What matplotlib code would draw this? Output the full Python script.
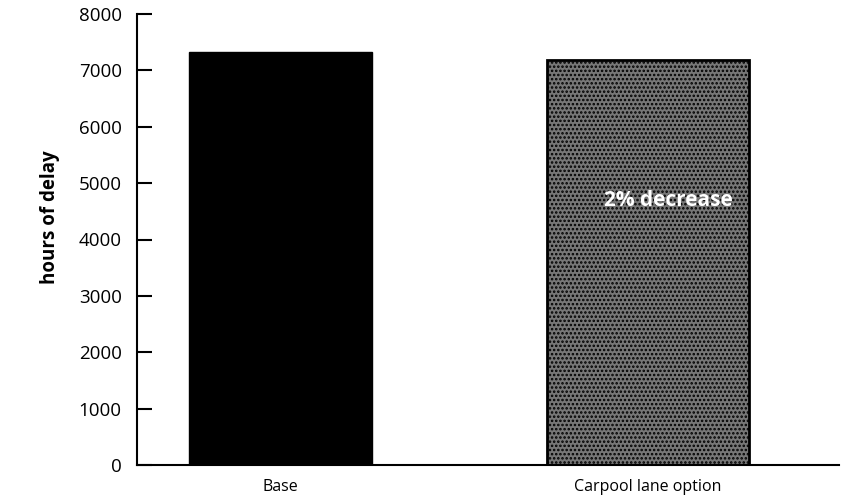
import matplotlib.pyplot as plt

plt.rcParams['font.family'] = ['Open Sans', 'DejaVu Sans']
plt.rcParams['hatch.linewidth'] = 1.2

categories = ["Base", "Carpool lane option"]
hours = [7330, 7180]
yticks = [0, 1000, 2000, 3000, 4000, 5000, 6000, 7000, 8000]
note = "2% decrease"

fig = plt.figure(figsize=(8.46, 5), dpi=100)
ax = fig.add_axes([0.162, 0.07, 0.83, 0.902])

x = [0, 1]
ax.bar(x[0], hours[0], width=0.5, color="black", edgecolor="black")
ax.bar(x[1], hours[1], width=0.55, color="#777777", edgecolor="black",
       hatch="....", linewidth=2)

ax.text(1.055, 4700, note, color="white", fontsize=15, fontweight="bold",
        ha="center", va="center")

ax.set_xlim(-0.39, 1.52)
ax.set_ylim(0, 8000)
ax.set_yticks(yticks)
ax.set_xticks(x)
ax.set_xticklabels(categories, fontsize=11.5)
ax.tick_params(axis="y", direction="in", length=11, width=1.5, labelsize=13.5, pad=11)
ax.tick_params(axis="x", length=0, pad=10)
ax.set_ylabel("hours of delay", fontsize=13.5, fontweight="bold", labelpad=16)
ax.yaxis.set_label_coords(-0.11, 0.55)

ax.spines["top"].set_visible(False)
ax.spines["right"].set_visible(False)
ax.spines["left"].set_linewidth(1.5)
ax.spines["bottom"].set_linewidth(1.5)

plt.savefig("out.png")
plt.close()
